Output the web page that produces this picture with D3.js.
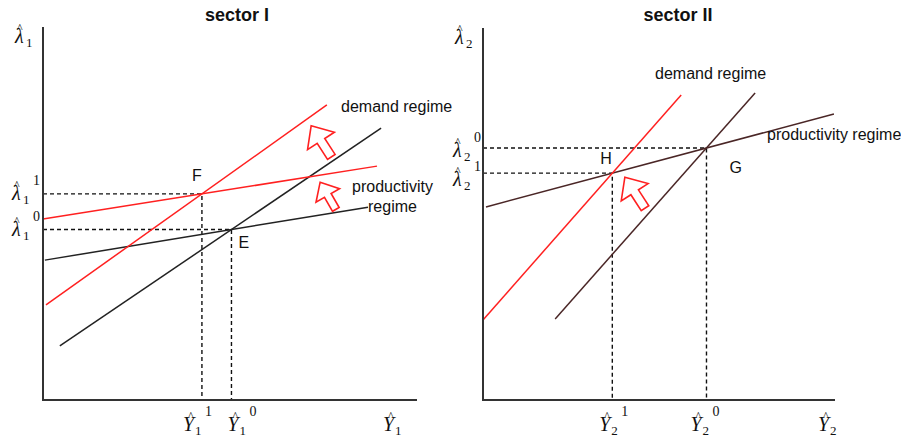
<!DOCTYPE html>
<html>
<head>
<meta charset="utf-8">
<script src="https://cdn.jsdelivr.net/npm/d3@7"></script>
<style>
  body { margin: 0; background: #fff; }
  svg { display: block; }
  .lbl { font-family: "Liberation Sans", Arial, sans-serif; font-size: 16px; fill: #111; }
  .title { font-family: "Liberation Sans", Arial, sans-serif; font-size: 18px; font-weight: bold; fill: #111; }
  .m { font-family: "Liberation Serif", "DejaVu Serif", serif; fill: #111; }
</style>
</head>
<body>
<script>
// ---- data (both axes run 0..100 in each panel) ----
// sector I
const s1DemandOld = [[4.5, 14.5], [90.4, 72.9]];
const s1DemandNew = [[0.8, 25.5], [75.9, 79.1]];
const s1ProdOld = [[0.5, 37.5], [86.9, 51.7]];
const s1ProdNew = [[0, 48.5], [89.3, 62.7]];
const s1Arrows = [[71.7, 73.5], [74.1, 58.4]];
// sector II
const s2DemandOld = [[20.5, 21.8], [77.3, 82.5]];
const s2DemandNew = [[0, 21.5], [56.3, 82.0]];
const s2Prod = [[0.85, 51.9], [99.7, 76.9]];
const s2Arrows = [[40.3, 59.9]];

const titles = ["sector I", "sector II"];

const W = 901, H = 439;
const red = "#ff2020", dark = "#222", brown = "#4a2626";

const svg = d3.select("body").append("svg").attr("width", W).attr("height", H);
svg.append("rect").attr("width", W).attr("height", H).attr("fill", "#fff");

// intersection of two segments (as infinite lines)
function cross(a, b) {
  const m1 = (a[1][1] - a[0][1]) / (a[1][0] - a[0][0]);
  const m2 = (b[1][1] - b[0][1]) / (b[1][0] - b[0][0]);
  const c1 = a[0][1] - m1 * a[0][0], c2 = b[0][1] - m2 * b[0][0];
  const x = (c2 - c1) / (m1 - m2);
  return [x, m1 * x + c1];
}

// italic symbol with hat, subscript and optional superscript, all in one text
function mathLabel(g, x, y, sym, sub, sup) {
  const isY = sym === "Y";
  const w = isY ? 12 : 11;
  const t = g.append("text").attr("class", "m");
  t.append("tspan").attr("x", x).attr("y", y)
    .attr("font-style", "italic").attr("font-size", 20).text(sym);
  t.append("tspan").attr("x", x + w).attr("y", y + 4)
    .attr("font-size", 13).text(sub);
  if (sup) t.append("tspan").attr("x", x + w + 10).attr("y", y - 15)
    .attr("font-size", 14).text(sup);
  t.append("tspan").attr("x", x + (isY ? 5 : 2)).attr("y", y - 11)
    .attr("font-size", 12).text("^");
}

function arrow(g, x, y, rot, k) {
  g.append("path")
    .attr("d", "M0,0 L16,18 L4.5,18 L4.5,37 L-4.5,37 L-4.5,18 L-16,18 Z")
    .attr("transform", `translate(${x},${y}) rotate(${rot}) scale(${k})`)
    .attr("fill", "#fff").attr("stroke", red).attr("stroke-width", 1.6 / k).attr("stroke-linejoin", "miter");
}

function panel(left, right, top, bottom, titleX, title) {
  const x = d3.scaleLinear().domain([0, 100]).range([left, right]);
  const y = d3.scaleLinear().domain([0, 100]).range([bottom, top]);
  const g = svg.append("g");
  g.append("text").attr("class", "title").attr("x", titleX).attr("y", 21)
    .attr("text-anchor", "middle").text(title);
  return { x, y, g };
}

const line = (p, d) => d3.line().x(v => p.x(v[0])).y(v => p.y(v[1]))(d);

function axes(p) {
  p.g.append("path").attr("d", line(p, [[0, 100], [0, 0], [100, 0]]))
    .attr("fill", "none").attr("stroke", "#333").attr("stroke-width", 2);
}

function dashes(p, pt) {
  p.g.append("path").attr("d", line(p, [[0, pt[1]], pt, [pt[0], 0]]))
    .attr("fill", "none").attr("stroke", "#111").attr("stroke-width", 1.4).attr("stroke-dasharray", "4,3");
}

function seg(p, d, color) {
  p.g.append("path").attr("d", line(p, d)).attr("fill", "none")
    .attr("stroke", color).attr("stroke-width", 1.5);
}

// ---- sector I ----
const p1 = panel(43, 417, 27, 400, 237, titles[0]);
const E = cross(s1DemandOld, s1ProdOld);
const F = cross(s1DemandNew, s1ProdNew);
dashes(p1, F);
dashes(p1, E);
seg(p1, s1ProdOld, dark);
seg(p1, s1DemandOld, dark);
seg(p1, s1ProdNew, red);
seg(p1, s1DemandNew, red);
axes(p1);
arrow(p1.g, p1.x(s1Arrows[0][0]), p1.y(s1Arrows[0][1]), -33, 1);
arrow(p1.g, p1.x(s1Arrows[1][0]), p1.y(s1Arrows[1][1]), -30, 0.85);
p1.g.append("text").attr("class", "lbl").attr("x", 341).attr("y", 112).text("demand regime");
p1.g.append("text").attr("class", "lbl").attr("x", 352).attr("y", 192).text("productivity");
p1.g.append("text").attr("class", "lbl").attr("x", 368).attr("y", 212).text("regime");
p1.g.append("text").attr("class", "lbl").attr("x", p1.x(F[0]) - 10).attr("y", p1.y(F[1]) - 13).text("F");
p1.g.append("text").attr("class", "lbl").attr("x", p1.x(E[0]) + 7).attr("y", p1.y(E[1]) + 18).text("E");
mathLabel(p1.g, 15, 43, "λ", "1", null);
mathLabel(p1.g, 12, p1.y(F[1]) + 6, "λ", "1", "1");
mathLabel(p1.g, 12, p1.y(E[1]) + 6, "λ", "1", "0");
mathLabel(p1.g, p1.x(F[0]) - 19, 431, "Y", "1", "1");
mathLabel(p1.g, p1.x(E[0]) - 4, 431, "Y", "1", "0");
mathLabel(p1.g, 383, 431, "Y", "1", null);

// ---- sector II ----
const p2 = panel(483, 835, 28, 400, 678, titles[1]);
const G = cross(s2DemandOld, s2Prod);
const Hh = cross(s2DemandNew, s2Prod);
dashes(p2, G);
dashes(p2, Hh);
seg(p2, s2Prod, brown);
seg(p2, s2DemandOld, brown);
seg(p2, s2DemandNew, red);
axes(p2);
s2Arrows.forEach(a => arrow(p2.g, p2.x(a[0]), p2.y(a[1]), -33, 1));
p2.g.append("text").attr("class", "lbl").attr("x", 655).attr("y", 79).text("demand regime");
p2.g.append("text").attr("class", "lbl").attr("x", 767).attr("y", 140).text("productivity regime");
p2.g.append("text").attr("class", "lbl").attr("x", p2.x(Hh[0]) - 12).attr("y", p2.y(Hh[1]) - 9).text("H");
p2.g.append("text").attr("class", "lbl").attr("x", p2.x(G[0]) + 23).attr("y", p2.y(G[1]) + 25).text("G");
mathLabel(p2.g, 455, 44, "λ", "2", null);
mathLabel(p2.g, 453, p2.y(G[1]) + 9, "λ", "2", "0");
mathLabel(p2.g, 453, p2.y(Hh[1]) + 13, "λ", "2", "1");
mathLabel(p2.g, p2.x(Hh[0]) - 13, 431, "Y", "2", "1");
mathLabel(p2.g, p2.x(G[0]) - 16, 431, "Y", "2", "0");
mathLabel(p2.g, 818, 431, "Y", "2", null);
</script>
</body>
</html>
